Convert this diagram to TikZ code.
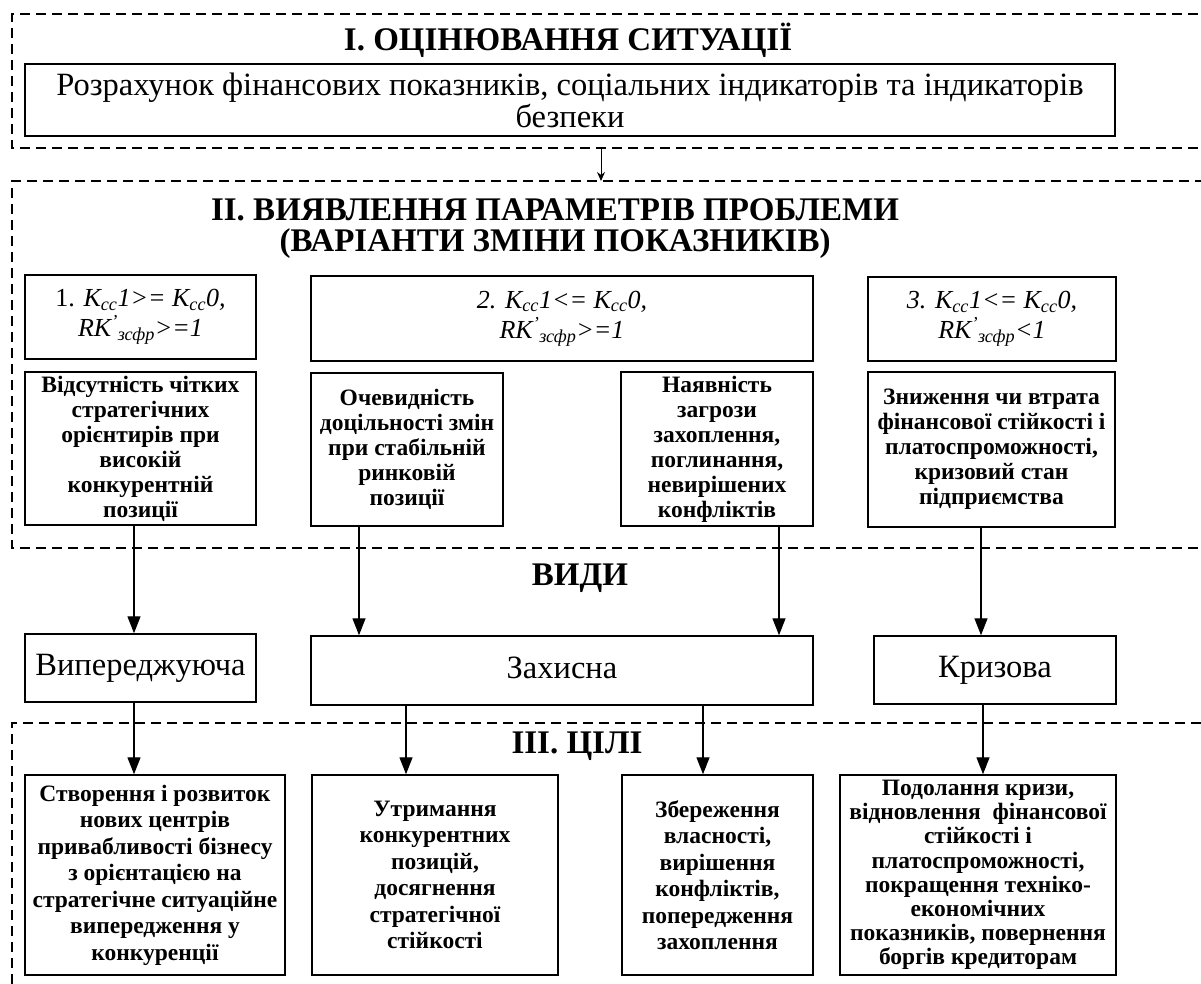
\documentclass[tikz,border=0pt]{standalone}
\usepackage{fontspec}
\setmainfont{Liberation Serif}
\usetikzlibrary{arrows.meta}
\newcommand\fmain{\fontsize{32.5}{32}\selectfont}
\newcommand\ftitle{\fontsize{33}{31}\selectfont\bfseries}
\newcommand\fdesc{\fontsize{23.5}{25}\selectfont\bfseries}
\newcommand\fgoal{\fontsize{23.5}{26.5}\selectfont\bfseries}
\newcommand\fgoalb{\fontsize{23.5}{24.2}\selectfont\bfseries}
\newcommand\ftype{\fontsize{32.5}{32}\selectfont}
\newcommand\fcond{\fontsize{26}{30}\selectfont\itshape}
\newcommand\Kcc{K\textsubscript{cc}}
\newcommand\RKz{RK\textsuperscript{'}\textsubscript{зсфр}}
\begin{document}
\begin{tikzpicture}[x=1pt,y=-1pt,
  box/.style={draw, line width=1.5pt, align=center, inner sep=2pt},
  typebox/.style={box, font=\ftype, text height=22pt, text depth=7pt},
  dashbox/.style={draw, line width=1.5pt, dash pattern=on 10pt off 6pt},
  arr/.style={line width=1.4pt, -{Triangle[length=17pt,width=13pt]}},
  small arr/.style={line width=1pt, -{Stealth[length=9pt,width=8pt]}}]
\useasboundingbox (0,0) rectangle (1201,984);
% dashed frames
\draw[dashbox] (12,1000) -- (12,723) -- (1230,723);
\draw[dashbox] (1230,148) -- (12,148) -- (12,14) -- (1230,14);
\draw[dashbox] (1230,548) -- (12,548) -- (12,181) -- (1230,181);
% titles
\node[font=\ftitle] (t1) at (568,40) {I. ОЦІНЮВАННЯ СИТУАЦІЇ};
\node[font=\ftitle, align=center] (t2) at (555,229) {II. ВИЯВЛЕННЯ ПАРАМЕТРІВ ПРОБЛЕМИ\\(ВАРІАНТИ ЗМІНИ ПОКАЗНИКІВ)};
\node[font=\ftitle] (t3) at (580,578) {ВИДИ};
\node[font=\ftitle] (t4) at (577,746) {III. ЦІЛІ};
% main box
\node[box, font=\fmain, minimum width=1090pt, minimum height=72pt] (main) at (570,100)
 {Розрахунок фінансових показників, соціальних індикаторів та індикаторів\\безпеки};
\coordinate (a0) at (601,148);
\coordinate (a1) at (601,181);
\draw[small arr] (a0) -- (a1);
% conditions
\node[box, font=\fcond, minimum width=231pt, minimum height=84pt] (c1) at (140.5,317)
 {\upshape 1. \itshape \Kcc1>= \Kcc0,\\\RKz>=1};
\node[box, font=\fcond, minimum width=502pt, minimum height=85pt] (c2) at (562,318.5)
 {2. \Kcc1<= \Kcc0,\\\RKz>=1};
\node[box, font=\fcond, minimum width=248pt, minimum height=84pt] (c3) at (992,319)
 {3. \Kcc1<= \Kcc0,\\\RKz<1};
% descriptions
\node[box, font=\fdesc, minimum width=231pt, minimum height=153pt] (d1) at (140.5,448.5)
 {Відсутність чітких\\стратегічних\\орієнтирів при\\високій\\конкурентній\\позиції};
\node[box, font=\fdesc, minimum width=192pt, minimum height=153pt] (d2) at (407,449.5)
 {Очевидність\\доцільності змін\\при стабільній\\ринковій\\позиції};
\node[box, font=\fdesc, minimum width=192pt, minimum height=154pt] (d3) at (717,449)
 {Наявність\\загрози\\захоплення,\\поглинання,\\невирішених\\конфліктів};
\node[box, font=\fdesc, minimum width=247pt, minimum height=155pt] (d4) at (991.5,449.5)
 {Зниження чи втрата\\фінансової стійкості і\\платоспроможності,\\кризовий стан\\підприємства};
% types
\node[typebox, minimum width=231pt, minimum height=68pt] (v1) at (140.5,668) {Випереджуюча};
\node[typebox, minimum width=502pt, minimum height=69pt] (v2) at (562,670.5) {Захисна};
\node[typebox, minimum width=242pt, minimum height=68pt] (v3) at (995,670) {Кризова};
% goals
\node[box, font=\fgoal, minimum width=260pt, minimum height=200pt] (g1) at (155,875)
 {Створення і розвиток\\нових центрів\\привабливості бізнесу\\з орієнтацією на\\стратегічне ситуаційне\\випередження у\\конкуренції};
\node[box, font=\fgoal, minimum width=246pt, minimum height=200pt] (g2) at (435,875)
 {Утримання\\конкурентних\\позицій,\\досягнення\\стратегічної\\стійкості};
\node[box, font=\fgoal, minimum width=191pt, minimum height=200pt] (g3) at (717.5,875)
 {Збереження\\власності,\\вирішення\\конфліктів,\\попередження\\захоплення};
\node[box, font=\fgoalb, minimum width=276pt, minimum height=200pt] (g4) at (978,875)
 {Подолання кризи,\\відновлення \ фінансової\\стійкості і\\платоспроможності,\\покращення техніко-\\економічних\\показників, повернення\\боргів кредиторам};
% arrows
\draw[arr] (d1.south -| 134,0) -- (v1.north -| 134,0);
\draw[arr] (d2.south -| 359,0) -- (v2.north -| 359,0);
\draw[arr] (d3.south -| 779,0) -- (v2.north -| 779,0);
\draw[arr] (d4.south -| 981,0) -- (v3.north -| 981,0);
\draw[arr] (v1.south -| 134,0) -- (g1.north -| 134,0);
\draw[arr] (v2.south -| 406,0) -- (g2.north -| 406,0);
\draw[arr] (v2.south -| 703,0) -- (g3.north -| 703,0);
\draw[arr] (v3.south -| 983,0) -- (g4.north -| 983,0);
\end{tikzpicture}
\end{document}
